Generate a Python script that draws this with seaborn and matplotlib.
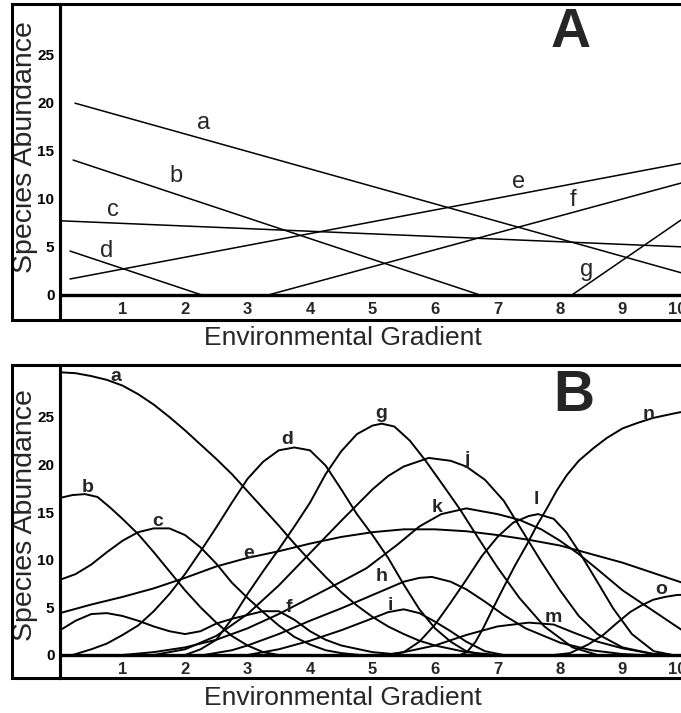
import matplotlib
matplotlib.use('Agg')
import matplotlib.pyplot as plt
from matplotlib.patches import Rectangle
import pandas as pd
import seaborn as sns

# ---- panel A: straight-line responses (start / end points)
lin_species = ['a', 'b', 'c', 'd', 'e', 'f', 'g']
lin_x0 = [0.24, 0.21, 0.0, 0.16, 0.16, 3.33, 8.19]
lin_y0 = [19.9, 14.0, 7.7, 4.56, 1.66, 0.0, 0.0]
lin_x1 = [10.3, 6.72, 10.3, 2.27, 10.3, 10.3, 10.3]
lin_y1 = [1.65, 0.0, 4.9, 0.0, 14.1, 12.25, 9.4]

# ---- panel B: bell-shaped responses, (x, abundance)
b_a = [(0, 29.7), (0.25, 29.6), (0.5, 29.3), (0.75, 28.9), (1.0, 28.3), (1.25, 27.4), (1.5, 26.3),
       (1.75, 25.0), (2.0, 23.6), (2.25, 22.1), (2.5, 20.6), (2.75, 19.0), (3.0, 17.2), (3.25, 15.4),
       (3.5, 13.6), (3.75, 11.7), (4.0, 9.9), (4.25, 8.2), (4.5, 6.6), (4.75, 5.2), (5.0, 4.0),
       (5.25, 3.0), (5.5, 2.2), (5.75, 1.5), (6.0, 1.0), (6.5, 0.3), (7.0, 0)]
b_b = [(0, 16.5), (0.2, 16.8), (0.4, 16.9), (0.6, 16.6), (0.8, 15.5), (1.0, 14.3), (1.25, 12.7),
       (1.5, 10.8), (1.75, 8.8), (2.0, 6.8), (2.25, 5.0), (2.5, 3.4), (2.75, 2.0), (3.0, 1.0),
       (3.25, 0.3), (3.5, 0)]
b_c = [(0, 7.9), (0.25, 8.5), (0.5, 9.5), (0.75, 10.8), (1.0, 12.0), (1.25, 12.9), (1.5, 13.3),
       (1.75, 13.3), (2.0, 12.6), (2.25, 11.3), (2.5, 9.6), (2.75, 7.6), (3.0, 6.0), (3.25, 4.5),
       (3.5, 3.1), (3.75, 1.9), (4.0, 1.1), (4.25, 0.5), (4.5, 0.2), (4.8, 0)]
b_d = [(0.2, 0), (0.5, 0.6), (0.75, 1.2), (1.0, 2.1), (1.25, 3.1), (1.5, 4.6), (1.75, 6.4),
       (2.0, 8.5), (2.25, 10.9), (2.5, 13.4), (2.75, 16.0), (3.0, 18.5), (3.25, 20.3), (3.5, 21.5),
       (3.75, 21.8), (4.0, 21.5), (4.25, 19.9), (4.5, 17.4), (4.75, 14.8), (5.0, 12.6), (5.25, 10.2),
       (5.5, 7.4), (5.75, 4.8), (6.0, 2.8), (6.25, 1.4), (6.5, 0.4), (6.8, 0)]
b_e = [(0, 4.4), (0.5, 5.3), (1.0, 6.1), (1.5, 7.0), (2.0, 8.1), (2.5, 9.3), (3.0, 10.2),
       (3.5, 10.9), (4.0, 11.7), (4.5, 12.4), (5.0, 12.9), (5.5, 13.2), (6.0, 13.2), (6.5, 13.0),
       (7.0, 12.6), (7.5, 12.1), (8.0, 11.5), (8.5, 10.6), (9.0, 9.7), (9.5, 8.6), (10.0, 7.5),
       (10.3, 6.8)]
b_f = [(0, 2.6), (0.25, 3.6), (0.5, 4.3), (0.75, 4.4), (1.0, 4.1), (1.25, 3.6), (1.5, 3.0),
       (1.75, 2.5), (2.0, 2.2), (2.25, 2.5), (2.5, 3.3), (2.75, 3.8), (3.0, 4.2), (3.25, 4.6),
       (3.5, 4.6), (3.75, 3.7), (4.0, 2.5), (4.25, 1.6), (4.5, 1.0), (5.0, 0.3), (5.5, 0)]
b_g = [(2.0, 0), (2.25, 0.6), (2.5, 1.6), (2.75, 3.8), (3.0, 6.4), (3.25, 8.8), (3.5, 11.1),
       (3.75, 13.5), (4.0, 16.0), (4.25, 19.0), (4.5, 21.4), (4.75, 23.2), (5.0, 24.1),
       (5.15, 24.3), (5.35, 24.0), (5.6, 22.5), (5.85, 20.4), (6.1, 18.1), (6.4, 15.3),
       (6.7, 12.2), (7.0, 9.2), (7.35, 6.0), (7.75, 3.0), (8.2, 0.8), (8.6, 0)]
b_h = [(2.3, 0), (2.75, 0.5), (3.0, 1.0), (3.5, 2.2), (4.0, 3.6), (4.5, 4.9), (5.0, 6.3),
       (5.5, 7.7), (5.75, 8.1), (5.95, 8.2), (6.25, 7.7), (6.5, 6.9), (6.8, 5.6), (7.1, 4.2),
       (7.45, 2.8), (8.0, 1.3), (8.5, 0.5), (9.0, 0.1), (9.3, 0)]
b_i = [(3.0, 0), (3.5, 0.6), (4.0, 1.5), (4.5, 2.6), (4.9, 3.6), (5.25, 4.5), (5.5, 4.8),
       (5.75, 4.4), (6.0, 3.5), (6.25, 2.5), (6.5, 1.4), (6.8, 0.4), (7.1, 0)]
b_j = [(1.5, 0), (2.0, 0.6), (2.5, 2.0), (3.0, 4.3), (3.5, 7.3), (4.0, 10.7), (4.5, 14.1),
       (5.0, 17.4), (5.25, 18.8), (5.5, 19.8), (5.9, 20.7), (6.25, 20.4), (6.5, 19.8), (6.8, 18.4),
       (7.1, 16.2), (7.4, 13.0), (7.7, 9.8), (8.0, 6.8), (8.3, 4.1), (8.6, 2.2), (9.0, 0.8),
       (9.5, 0.1), (9.8, 0)]
b_k = [(1.0, 0), (1.5, 0.3), (2.0, 0.8), (2.5, 1.6), (3.0, 2.8), (3.5, 4.3), (4.0, 6.0),
       (4.5, 7.7), (4.9, 9.1), (5.4, 11.6), (5.75, 13.5), (6.1, 14.8), (6.5, 15.4), (7.0, 14.8),
       (7.35, 14.2), (7.7, 13.2), (8.0, 12.0), (8.3, 10.6), (8.6, 9.0), (9.0, 6.8), (9.5, 4.6),
       (10.0, 2.4), (10.3, 1.6)]
b_l = [(5.2, 0), (5.5, 0.3), (5.75, 1.4), (6.0, 3.2), (6.25, 5.5), (6.5, 7.9), (6.75, 10.4),
       (7.0, 12.4), (7.25, 13.9), (7.5, 14.6), (7.65, 14.8), (7.9, 14.3), (8.1, 12.9), (8.3, 10.9),
       (8.55, 8.2), (8.85, 4.9), (9.15, 2.2), (9.5, 0.4), (9.8, 0)]
b_m = [(5.2, 0), (5.5, 0.3), (6.0, 1.0), (6.5, 2.1), (7.0, 3.0), (7.5, 3.4), (7.9, 3.2),
       (8.2, 2.4), (8.6, 1.4), (9.0, 0.7), (9.5, 0.1), (9.8, 0)]
b_n = [(6.4, 0), (6.51, 0.3), (6.65, 1.4), (6.77, 2.8), (6.92, 4.8), (7.09, 7.0), (7.28, 9.4),
       (7.47, 11.6), (7.63, 13.6), (7.79, 15.4), (7.95, 17.3), (8.11, 18.9), (8.3, 20.4),
       (8.53, 21.7), (8.75, 22.8), (9.0, 23.8), (9.25, 24.4), (9.49, 24.9), (9.7, 25.2),
       (9.92, 25.5), (10.3, 25.7)]
b_o = [(7.9, 0), (8.16, 0.2), (8.45, 1.1), (8.69, 2.1), (8.9, 3.3), (9.12, 4.5), (9.3, 5.2),
       (9.49, 5.8), (9.68, 6.1), (9.87, 6.3), (10.3, 6.4)]

bell_curves = {'a': b_a, 'b': b_b, 'c': b_c, 'd': b_d, 'e': b_e, 'f': b_f, 'g': b_g, 'h': b_h,
               'i': b_i, 'j': b_j, 'k': b_k, 'l': b_l, 'm': b_m, 'n': b_n, 'o': b_o}

# tick positions as lettered on the original (the "10" sits a little short of 10)
x_tick_pos = [1, 2, 3, 4, 5, 6, 7, 8, 9, 9.88]
x_tick_labels = ['1', '2', '3', '4', '5', '6', '7', '8', '9', '10']
y_ticks = [0, 5, 10, 15, 20, 25]

# where the letters sit next to their curves
lin_label_x = [2.30, 1.86, 0.85, 0.75, 7.33, 8.21, 8.42]
lin_label_y = [17.8, 12.3, 8.8, 4.6, 11.7, 9.85, 2.6]
bell_label_x = [0.90, 0.45, 1.57, 3.63, 3.01, 3.66, 5.14, 5.15, 5.28, 6.51, 6.03, 7.62, 7.89, 9.41, 9.62]
bell_label_y = [29.3, 17.6, 14.0, 22.6, 10.7, 5.0, 25.4, 8.2, 5.25, 20.5, 15.5, 16.3, 3.9, 25.3, 6.9]

# long-form tables for seaborn
rows = []
for sp, x0, y0, x1, y1 in zip(lin_species, lin_x0, lin_y0, lin_x1, lin_y1):
    rows.append({'species': sp, 'x': x0, 'y': y0})
    rows.append({'species': sp, 'x': x1, 'y': y1})
df_lin = pd.DataFrame(rows)

rows = []
for sp, pts in bell_curves.items():
    for x, y in pts:
        rows.append({'species': sp, 'x': x, 'y': y})
df_bell = pd.DataFrame(rows)

sns.set_theme(style='white')
plt.rcParams['font.family'] = ['Liberation Sans', 'DejaVu Sans']

W, H = 681, 713
fig = plt.figure(figsize=(W / 100, H / 100), dpi=100)

X_LEFT = 60          # pixel of x = 0
X_UNIT = 62.5        # pixels per gradient unit
XMAX = 10.3
ax_w = X_UNIT * XMAX


def make_panel(top, bottom, zero_px, y_unit):
    ax = fig.add_axes([X_LEFT / W, 1 - bottom / H, ax_w / W, (bottom - top) / H])
    ax.set_xlim(0, XMAX)
    ax.set_ylim(-(bottom - zero_px) / y_unit, (zero_px - top) / y_unit)
    # outer box that holds the y label
    fig.add_artist(Rectangle((12 / W, 1 - bottom / H), (X_LEFT - 12) / W, (bottom - top) / H,
                             transform=fig.transFigure, fill=False, lw=2.2, color='black'))
    for s in ax.spines.values():
        s.set_visible(True)
        s.set_color('black')
        s.set_linewidth(2.2)
    ax.axhline(0, color='black', lw=2.4, zorder=3)
    ax.set_xticks(x_tick_pos)
    ax.set_xticklabels(x_tick_labels, fontsize=12, fontweight='bold')
    ax.set_yticks(y_ticks)
    ax.set_yticklabels([str(t) for t in y_ticks], fontsize=11, fontweight='bold')
    ax.tick_params(axis='y', direction='out', length=2.5, width=1.4, pad=1.5, colors='black')
    ax.grid(False)
    return ax


# ---- panel A
axA = make_panel(3.5, 320, 295, 9.64)
sns.lineplot(data=df_lin, x='x', y='y', units='species', estimator=None, sort=False,
             color='black', lw=1.1, ax=axA)
axA.tick_params(axis='x', length=0, pad=-13)
for sp, lx, ly in zip(lin_species, lin_label_x, lin_label_y):
    axA.text(lx, ly, sp, fontsize=17, ha='center', va='center')
axA.text(0.794, 0.907, 'A', transform=axA.transAxes, fontsize=40, fontweight='bold',
         ha='center', va='center')
axA.set_xlabel('Environmental Gradient', fontsize=19, va='center')
axA.xaxis.set_label_coords(0.44, -0.057)
axA.set_ylabel('Species Abundance', fontsize=20.5, va='center')
axA.yaxis.set_label_coords(-0.0544, 0.547)

# ---- panel B
axB = make_panel(365, 678, 655, 9.52)
sns.lineplot(data=df_bell, x='x', y='y', units='species', estimator=None, sort=False,
             color='black', lw=1.4, ax=axB)
axB.tick_params(axis='x', length=0, pad=-11.5)
for sp, lx, ly in zip(bell_curves.keys(), bell_label_x, bell_label_y):
    axB.text(lx, ly, sp, fontsize=14, fontweight='bold', ha='center', va='center')
axB.text(0.798, 0.901, 'B', transform=axB.transAxes, fontsize=41, fontweight='bold',
         ha='center', va='center')
axB.set_xlabel('Environmental Gradient', fontsize=19, va='center')
axB.xaxis.set_label_coords(0.44, -0.064)
axB.set_ylabel('Species Abundance', fontsize=20.5, va='center')
axB.yaxis.set_label_coords(-0.0544, 0.521)

fig.savefig('out.png', dpi=100)
